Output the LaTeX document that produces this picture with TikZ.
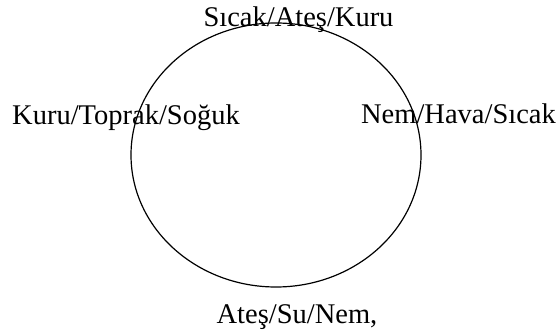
\documentclass[tikz,border=0pt]{standalone}
\usepackage{fontspec}
\setmainfont{Liberation Serif}
\usepackage{tikz}
\usetikzlibrary{shapes.geometric}
\tikzset{
  wheel/.style={ellipse, draw=black, line width=1.2pt, inner sep=0pt,
                minimum width=290pt, minimum height=264pt},
  quality/.style={inner sep=0pt, anchor=base, font=\fontsize{28.5}{30}\selectfont},
}
\begin{document}
\begin{tikzpicture}[x=1pt, y=-1pt]
    \useasboundingbox (0,0) rectangle (557,336);
    % Ellipse
    \node[wheel] (elem) at (276,155) {};
    % Labels
    \node[quality] (fire)  at (298.5,27) {Sıcak/Ateş/Kuru};
    \node[quality] (earth) at (126,125)  {Kuru/Toprak/Soğuk};
    \node[quality] (air)   at (458.5,124) {Nem/Hava/Sıcak};
    \node[quality] (water) at (297,324)  {Ateş/Su/Nem,};
\end{tikzpicture}
\end{document}
